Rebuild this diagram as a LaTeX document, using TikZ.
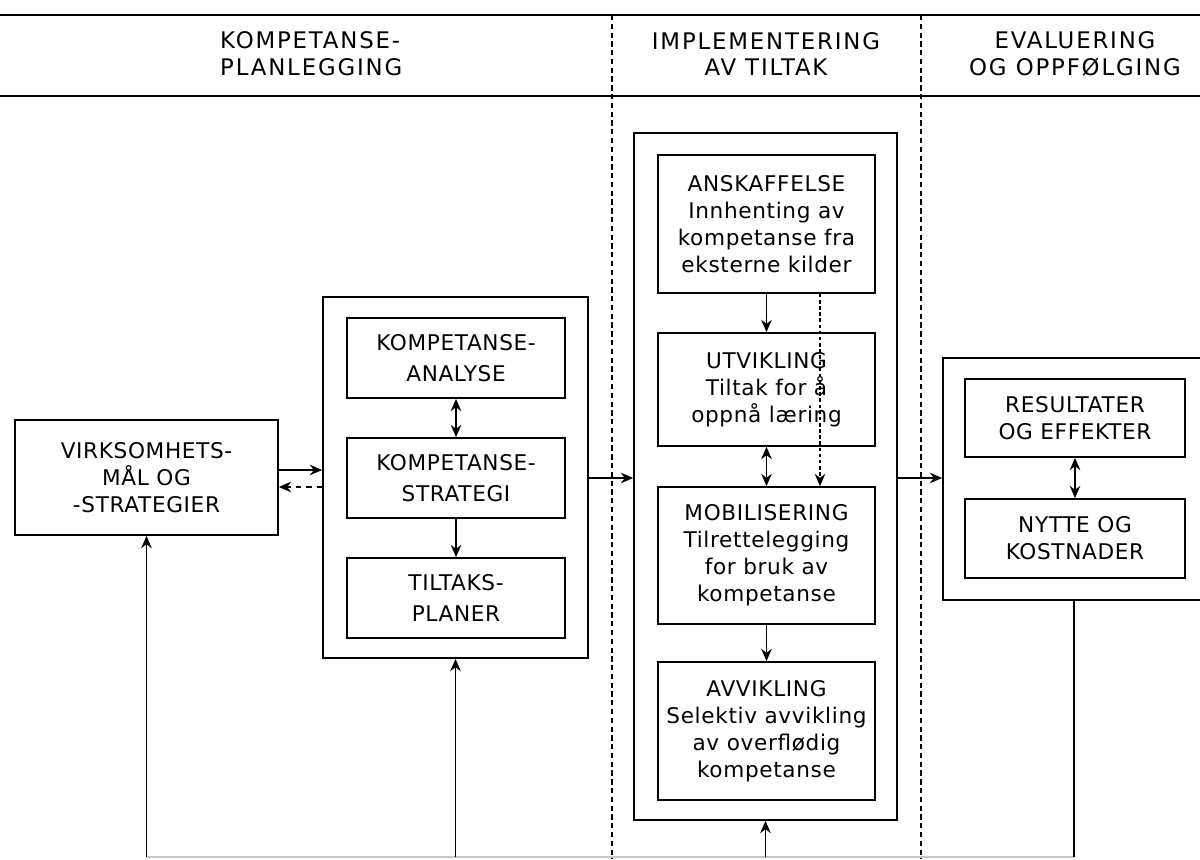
\documentclass[tikz,border=0pt]{standalone}
\usepackage{fontspec}
\setmainfont{DejaVu Sans}
\newfontfamily\boxfont{DejaVu Sans}[LetterSpace=3]
\newfontfamily\headfont{DejaVu Sans}[LetterSpace=8]
\usetikzlibrary{arrows,shapes,positioning,fit,arrows.meta,backgrounds,calc}

\tikzset{
  box/.style={draw,line width=1pt,align=center,inner sep=1pt,
    font=\boxfont\fontsize{12.3}{15.3}\selectfont},
  outer/.style={draw,line width=1pt},
  head/.style={align=center,font=\headfont\fontsize{13}{15.3}\selectfont},
  arr/.style={-{Stealth[length=7pt,width=6pt]},line width=0.9pt},
  darr/.style={{Stealth[length=7pt,width=6pt]}-{Stealth[length=7pt,width=6pt]},line width=0.9pt},
  phase/.style={dash pattern=on 3pt off 2pt,line width=0.7pt}
}

\begin{document}
\begin{tikzpicture}[x=0.02cm,y=-0.02cm]
\useasboundingbox (0,0) rectangle (1200,859);

% header
\draw[line width=1.2pt] (0,15) -- (1200,15);
\draw[line width=1.2pt] (0,96) -- (1200,96);
\draw[phase] (612,15) -- (612,859);
\draw[phase] (921,15) -- (921,859);
\node[head,align=left,anchor=west] (hplan) at (214,54) {KOMPETANSE-\\PLANLEGGING};
\node[head] (himpl) at (766,54) {IMPLEMENTERING\\AV TILTAK};
\node[head] (heval) at (1075,54) {EVALUERING\\OG OPPFØLGING};

% planning
\node[box,minimum width=5.26cm,minimum height=2.3cm] (virk) at (146.5,477.5) {VIRKSOMHETS-\\MÅL OG\\-STRATEGIER};
\node[outer,minimum width=5.3cm,minimum height=7.22cm] (plan) at (455.5,477.5) {};
\node[box,minimum width=4.36cm,minimum height=1.6cm,font=\boxfont\fontsize{12.3}{17.6}\selectfont] (analyse) at (456,358) {KOMPETANSE-\\ANALYSE};
\node[box,minimum width=4.36cm,minimum height=1.6cm,font=\boxfont\fontsize{12.3}{17.6}\selectfont] (strategi) at (456,478) {KOMPETANSE-\\STRATEGI};
\node[box,minimum width=4.36cm,minimum height=1.6cm,font=\boxfont\fontsize{12.3}{17.6}\selectfont] (tiltak) at (456,598) {TILTAKS-\\PLANER};

% implementation
\node[outer,minimum width=5.26cm,minimum height=13.74cm] (impl) at (765.5,476.5) {};
\node[box,minimum width=4.34cm,minimum height=2.76cm] (anskaff) at (766.5,224) {ANSKAFFELSE\\Innhenting av\\kompetanse fra\\eksterne kilder};
\node[box,minimum width=4.34cm,minimum height=2.26cm] (utvikl) at (766.5,389.5) {UTVIKLING\\Tiltak for å\\oppnå læring};
\node[box,minimum width=4.34cm,minimum height=2.74cm] (mobil) at (766.5,555.5) {MOBILISERING\\Tilrettelegging\\for bruk av\\kompetanse};
\node[box,minimum width=4.34cm,minimum height=2.76cm] (avvikl) at (766.5,731) {AVVIKLING\\Selektiv avvikling\\av overflødig\\kompetanse};

% evaluation
\node[outer,minimum width=5.44cm,minimum height=4.84cm] (eval) at (1079,479) {};
\node[box,minimum width=4.4cm,minimum height=1.56cm] (result) at (1075,418) {RESULTATER\\OG EFFEKTER};
\node[box,minimum width=4.4cm,minimum height=1.58cm] (nytte) at (1075,538.5) {NYTTE OG\\KOSTNADER};

% connectors
\coordinate (ya) at (0,470);
\coordinate (yb) at (0,487);
\coordinate (yc) at (0,478);
\coordinate (xd) at (820,0);
\draw[arr] (virk.east |- ya) -- (plan.west |- ya);
\draw[arr,dashed] (plan.west |- yb) -- (virk.east |- yb);
\draw[arr] (plan.east |- yc) -- (impl.west |- yc);
\draw[arr] (impl.east |- yc) -- (eval.west |- yc);

\draw[darr] (analyse) -- (strategi);
\draw[arr] (strategi) -- (tiltak);
\draw[arr] (anskaff) -- (utvikl);
\draw[darr] (utvikl) -- (mobil);
\draw[arr] (mobil) -- (avvikl);
\draw[arr,dash pattern=on 2pt off 1.5pt] (anskaff.south -| xd) -- (mobil.north -| xd);
\draw[darr] (result) -- (nytte);

% feedback
\coordinate (b1) at (146.5,857);
\coordinate (b2) at (455.5,857);
\coordinate (b3) at (765.5,857);
\coordinate (b4) at (1074,857);
\draw[gray!45,line width=0.6pt] (b1) -- (b4);
\draw[arr] (b1) -- (virk.south -| b1);
\draw[arr] (b2) -- (plan.south -| b2);
\draw[arr] (b3) -- (impl.south -| b3);
\draw[line width=0.9pt] (eval.south -| b4) -- (b4);
\end{tikzpicture}
\end{document}
